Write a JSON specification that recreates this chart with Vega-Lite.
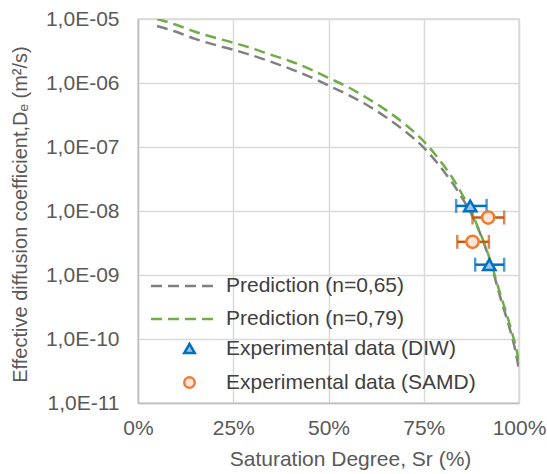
{
  "$schema": "https://vega.github.io/schema/vega-lite/v6.json",
  "width": 381,
  "height": 384,
  "autosize": "none",
  "padding": {"left": 138, "top": 19, "right": 28, "bottom": 71},
  "background": "white",
  "config": {
    "font": "Liberation Sans",
    "view": {"stroke": "#d9d9d9", "strokeWidth": 1.5},
    "axis": {
      "labelFont": "Liberation Sans",
      "titleFont": "Liberation Sans",
      "labelFontSize": 21,
      "titleFontSize": 20,
      "labelColor": "#595959",
      "titleColor": "#595959",
      "titleFontWeight": "normal",
      "gridColor": "#d9d9d9",
      "gridWidth": 1.5,
      "domainColor": "#bfbfbf",
      "domainWidth": 1.5,
      "ticks": false,
      "labelFlush": false,
      "labelOverlap": false
    },
    "legend": {
      "labelFont": "Liberation Sans",
      "labelFontSize": 21,
      "labelColor": "#404040",
      "labelLimit": 0
    }
  },
  "datasets": {
    "model": [
      {"model": "Prediction (n=0,65)", "Sr": 5, "De": 7.76e-6},
      {"model": "Prediction (n=0,65)", "Sr": 10, "De": 6.31e-6},
      {"model": "Prediction (n=0,65)", "Sr": 15, "De": 4.90e-6},
      {"model": "Prediction (n=0,65)", "Sr": 20, "De": 3.98e-6},
      {"model": "Prediction (n=0,65)", "Sr": 25, "De": 3.31e-6},
      {"model": "Prediction (n=0,65)", "Sr": 30, "De": 2.69e-6},
      {"model": "Prediction (n=0,65)", "Sr": 35, "De": 2.14e-6},
      {"model": "Prediction (n=0,65)", "Sr": 40, "De": 1.66e-6},
      {"model": "Prediction (n=0,65)", "Sr": 45, "De": 1.26e-6},
      {"model": "Prediction (n=0,65)", "Sr": 50, "De": 9.12e-7},
      {"model": "Prediction (n=0,65)", "Sr": 55, "De": 6.61e-7},
      {"model": "Prediction (n=0,65)", "Sr": 60, "De": 4.57e-7},
      {"model": "Prediction (n=0,65)", "Sr": 65, "De": 2.95e-7},
      {"model": "Prediction (n=0,65)", "Sr": 70, "De": 1.78e-7},
      {"model": "Prediction (n=0,65)", "Sr": 75, "De": 9.77e-8},
      {"model": "Prediction (n=0,65)", "Sr": 80, "De": 4.37e-8},
      {"model": "Prediction (n=0,65)", "Sr": 82.5, "De": 2.75e-8},
      {"model": "Prediction (n=0,65)", "Sr": 85, "De": 1.62e-8},
      {"model": "Prediction (n=0,65)", "Sr": 87.5, "De": 8.91e-9},
      {"model": "Prediction (n=0,65)", "Sr": 90, "De": 4.17e-9},
      {"model": "Prediction (n=0,65)", "Sr": 92.5, "De": 1.58e-9},
      {"model": "Prediction (n=0,65)", "Sr": 95, "De": 4.68e-10},
      {"model": "Prediction (n=0,65)", "Sr": 96, "De": 2.95e-10},
      {"model": "Prediction (n=0,65)", "Sr": 97, "De": 1.91e-10},
      {"model": "Prediction (n=0,65)", "Sr": 98, "De": 1.17e-10},
      {"model": "Prediction (n=0,65)", "Sr": 99, "De": 6.76e-11},
      {"model": "Prediction (n=0,65)", "Sr": 100, "De": 3.31e-11},
      {"model": "Prediction (n=0,79)", "Sr": 5, "De": 1.0e-5},
      {"model": "Prediction (n=0,79)", "Sr": 10, "De": 8.13e-6},
      {"model": "Prediction (n=0,79)", "Sr": 15, "De": 6.31e-6},
      {"model": "Prediction (n=0,79)", "Sr": 20, "De": 5.13e-6},
      {"model": "Prediction (n=0,79)", "Sr": 25, "De": 4.27e-6},
      {"model": "Prediction (n=0,79)", "Sr": 30, "De": 3.47e-6},
      {"model": "Prediction (n=0,79)", "Sr": 35, "De": 2.75e-6},
      {"model": "Prediction (n=0,79)", "Sr": 40, "De": 2.19e-6},
      {"model": "Prediction (n=0,79)", "Sr": 45, "De": 1.66e-6},
      {"model": "Prediction (n=0,79)", "Sr": 50, "De": 1.20e-6},
      {"model": "Prediction (n=0,79)", "Sr": 55, "De": 8.71e-7},
      {"model": "Prediction (n=0,79)", "Sr": 60, "De": 5.89e-7},
      {"model": "Prediction (n=0,79)", "Sr": 65, "De": 3.80e-7},
      {"model": "Prediction (n=0,79)", "Sr": 70, "De": 2.29e-7},
      {"model": "Prediction (n=0,79)", "Sr": 75, "De": 1.23e-7},
      {"model": "Prediction (n=0,79)", "Sr": 80, "De": 5.37e-8},
      {"model": "Prediction (n=0,79)", "Sr": 82.5, "De": 3.31e-8},
      {"model": "Prediction (n=0,79)", "Sr": 85, "De": 1.86e-8},
      {"model": "Prediction (n=0,79)", "Sr": 87.5, "De": 9.55e-9},
      {"model": "Prediction (n=0,79)", "Sr": 90, "De": 4.27e-9},
      {"model": "Prediction (n=0,79)", "Sr": 92.5, "De": 1.66e-9},
      {"model": "Prediction (n=0,79)", "Sr": 95, "De": 5.25e-10},
      {"model": "Prediction (n=0,79)", "Sr": 96, "De": 3.39e-10},
      {"model": "Prediction (n=0,79)", "Sr": 97, "De": 2.19e-10},
      {"model": "Prediction (n=0,79)", "Sr": 98, "De": 1.35e-10},
      {"model": "Prediction (n=0,79)", "Sr": 99, "De": 8.32e-11},
      {"model": "Prediction (n=0,79)", "Sr": 100, "De": 4.37e-11}
    ],
    "exp": [
      {"exp": "Experimental data (DIW)", "Sr": 87.2, "De": 1.2e-8, "lo": 83.5, "hi": 91.5},
      {"exp": "Experimental data (DIW)", "Sr": 92.2, "De": 1.45e-9, "lo": 88.5, "hi": 96.1},
      {"exp": "Experimental data (SAMD)", "Sr": 91.9, "De": 7.9e-9, "lo": 87.8, "hi": 96.1},
      {"exp": "Experimental data (SAMD)", "Sr": 87.8, "De": 3.3e-9, "lo": 83.8, "hi": 92.1}
    ]
  },
  "encoding": {},
  "layer": [
    {
      "data": {"name": "model"},
      "mark": {"type": "line", "strokeWidth": 2.5, "strokeDash": [11, 6], "clip": true, "interpolate": "monotone"},
      "encoding": {
        "x": {
          "field": "Sr", "type": "quantitative",
          "title": "Saturation  Degree, Sr (%)",
          "scale": {"domain": [0, 100], "nice": false},
          "axis": {
            "values": [0, 25, 50, 75, 100],
            "labelExpr": "datum.value + '%'",
            "labelPadding": 14,
            "titlePadding": 10,
            "titleFontSize": 21,
            "titleX": 212
          }
        },
        "y": {
          "field": "De", "type": "quantitative",
          "title": "Effective diffusion coefficient,Dₑ (m²/s)",
          "scale": {"type": "log", "domain": [1e-11, 1e-5], "nice": false},
          "axis": {
            "values": [1e-11, 1e-10, 1e-9, 1e-8, 1e-7, 1e-6, 1e-5],
            "labelExpr": "'1,0E-' + (round(-log(datum.value)/LN10) < 10 ? '0' : '') + round(-log(datum.value)/LN10)",
            "labelPadding": 19,
            "titlePadding": 15,
            "titleY": 195
          }
        },
        "color": {
          "field": "model", "type": "nominal",
          "scale": {"domain": ["Prediction (n=0,65)", "Prediction (n=0,79)"], "range": ["#808080", "#70AD47"]},
          "legend": {
            "title": null,
            "orient": "none",
            "legendX": 32,
            "legendY": 255,
            "symbolType": "M-3,0H3",
            "symbolSize": 427,
            "symbolStrokeWidth": 2.5,
            "symbolDash": [11, 6],
            "labelOffset": 32,
            "rowPadding": 11
          }
        }
      }
    },
    {
      "data": {"name": "exp"},
      "transform": [{"filter": "datum.exp == 'Experimental data (DIW)'"}],
      "mark": {"type": "errorbar", "color": "#0070C0", "ticks": {"size": 14, "thickness": 2.5}, "rule": {"strokeWidth": 2.5}},
      "encoding": {
        "x": {"field": "lo", "type": "quantitative", "title": "Saturation  Degree, Sr (%)"},
        "x2": {"field": "hi"},
        "y": {"field": "De", "type": "quantitative", "title": "Effective diffusion coefficient,Dₑ (m²/s)"}
      }
    },
    {
      "data": {"name": "exp"},
      "transform": [{"filter": "datum.exp == 'Experimental data (SAMD)'"}],
      "mark": {"type": "errorbar", "color": "#C55A11", "ticks": {"size": 14, "thickness": 2.5}, "rule": {"strokeWidth": 2.5}},
      "encoding": {
        "x": {"field": "lo", "type": "quantitative", "title": "Saturation  Degree, Sr (%)"},
        "x2": {"field": "hi"},
        "y": {"field": "De", "type": "quantitative", "title": "Effective diffusion coefficient,Dₑ (m²/s)"}
      }
    },
    {
      "data": {"name": "exp"},
      "mark": {"type": "point", "filled": false, "strokeWidth": 2.5, "opacity": 1, "fillOpacity": 1},
      "encoding": {
        "x": {"field": "Sr", "type": "quantitative", "title": "Saturation  Degree, Sr (%)"},
        "y": {"field": "De", "type": "quantitative", "title": "Effective diffusion coefficient,Dₑ (m²/s)"},
        "shape": {
          "field": "exp", "type": "nominal",
          "scale": {"domain": ["Experimental data (DIW)", "Experimental data (SAMD)"], "range": ["triangle-up", "circle"]},
          "legend": {
            "title": null,
            "orient": "none",
            "legendX": 41,
            "legendY": 319,
            "symbolSize": 110,
            "symbolStrokeWidth": 2.5,
            "labelOffset": 26,
            "rowPadding": 12
          }
        },
        "stroke": {
          "field": "exp", "type": "nominal",
          "scale": {"domain": ["Experimental data (DIW)", "Experimental data (SAMD)"], "range": ["#0070C0", "#ED7D31"]},
          "legend": null
        },
        "fill": {
          "field": "exp", "type": "nominal",
          "scale": {"domain": ["Experimental data (DIW)", "Experimental data (SAMD)"], "range": ["#9DC3E6", "#FBE5D6"]},
          "legend": null
        },
        "size": {"value": 150}
      }
    }
  ]
}
